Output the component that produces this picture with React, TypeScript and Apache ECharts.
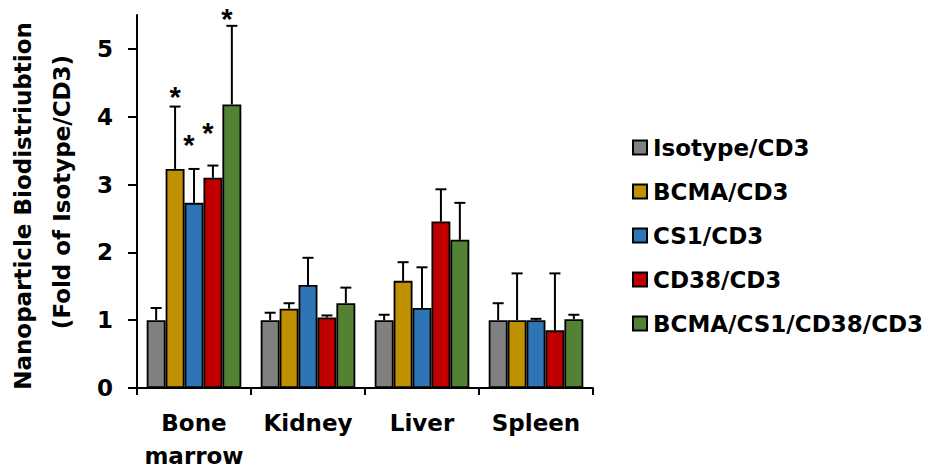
import React, { useEffect, useRef } from "react";
import * as echarts from "echarts";

const organs = ["Bone\nmarrow", "Kidney", "Liver", "Spleen"];
const groups = ["Isotype/CD3", "BCMA/CD3", "CS1/CD3", "CD38/CD3", "BCMA/CS1/CD38/CD3"];
const groupColors = ["#808080", "#BF9000", "#2E75B6", "#C00000", "#548235"];

// Mean fold change (vs. Isotype/CD3) per organ
const isotypeMean = [1.0, 1.0, 1.0, 1.0];
const bcmaMean = [3.23, 1.17, 1.58, 1.0];
const cs1Mean = [2.73, 1.52, 1.18, 1.0];
const cd38Mean = [3.1, 1.04, 2.455, 0.85];
const comboMean = [4.18, 1.25, 2.185, 1.015];

// Upper end of each error bar (mean + SD)
const isotypeUpper = [1.18, 1.11, 1.08, 1.25];
const bcmaUpper = [4.15, 1.25, 1.855, 1.69];
const cs1Upper = [3.23, 1.92, 1.78, 1.02];
const cd38Upper = [3.28, 1.07, 2.93, 1.69];
const comboUpper = [5.34, 1.48, 2.73, 1.08];

// Significance asterisks: organ index, group index, level on the value axis
const sigOrgan = [0, 0, 0, 0];
const sigGroup = [1, 2, 3, 4];
const sigLevel = [4.36, 3.66, 3.83, 5.51];

const yTickValues = [0, 1, 2, 3, 4, 5];

const means = [isotypeMean, bcmaMean, cs1Mean, cd38Mean, comboMean];
const uppers = [isotypeUpper, bcmaUpper, cs1Upper, cd38Upper, comboUpper];

const FONT = "DejaVu Sans";
const CATEGORY_GAP = 0.17;

function barCenterX(api: any, organ: number, group: number) {
  const c = api.coord([organ, 0]);
  const band = api.size([1, 0])[0];
  const inner = band * (1 - CATEGORY_GAP);
  const w = inner / groups.length;
  return { x: c[0] - inner / 2 + w * (group + 0.5), w };
}

export default function App() {
  const ref = useRef<HTMLDivElement>(null);

  useEffect(() => {
    if (!ref.current) return;
    const chart = echarts.init(ref.current, null, { renderer: "svg" });

    const barSeries = groups.map((name, g) => ({
      name,
      type: "bar",
      data: means[g],
      barGap: "0%",
      barCategoryGap: CATEGORY_GAP * 100 + "%",
      itemStyle: { color: groupColors[g], borderColor: "#000", borderWidth: 1.8 },
      z: 2,
    }));

    const errData: number[][] = [];
    groups.forEach((_, g) => {
      organs.forEach((__, o) => {
        errData.push([o, g, means[g][o], uppers[g][o]]);
      });
    });

    const errorSeries = {
      type: "custom",
      name: "error",
      z: 3,
      silent: true,
      clip: false,
      data: errData,
      encode: { x: 0, y: 3 },
      renderItem: (params: any, api: any) => {
        const o = api.value(0);
        const g = api.value(1);
        const { x } = barCenterX(api, o, g);
        const yMean = api.coord([o, api.value(2)])[1];
        const yUp = api.coord([o, api.value(3)])[1];
        const cap = 5.5;
        const style = { stroke: "#000", lineWidth: 2 };
        return {
          type: "group",
          children: [
            { type: "line", shape: { x1: x, y1: yMean, x2: x, y2: yUp }, style },
            { type: "line", shape: { x1: x - cap, y1: yUp, x2: x + cap, y2: yUp }, style },
          ],
        };
      },
    };

    const starData = sigOrgan.map((o, i) => [o, sigGroup[i], sigLevel[i]]);
    const starSeries = {
      type: "custom",
      name: "sig",
      z: 4,
      silent: true,
      clip: false,
      data: starData,
      encode: { x: 0, y: 2 },
      renderItem: (params: any, api: any) => {
        const o = api.value(0);
        const g = api.value(1);
        const { x } = barCenterX(api, o, g);
        const y = api.coord([o, api.value(2)])[1];
        const shift = g >= 2 ? -5 : 0;
        return {
          type: "text",
          x: x + shift,
          y: y + 5,
          style: {
            text: "*",
            fill: "#000",
            font: `bold 29px "Liberation Sans"`,
            align: "center",
            verticalAlign: "middle",
          },
        };
      },
    };

    chart.setOption({
      animation: false,
      backgroundColor: "#fff",
      textStyle: { fontFamily: FONT },
      grid: {
        left: 137,
        right: 345,
        top: 15,
        bottom: 79,
        containLabel: false,
        outerBoundsMode: "none",
      },
      legend: {
        orient: "vertical",
        left: 632,
        top: 136,
        padding: 0,
        itemWidth: 14,
        itemHeight: 14,
        itemGap: 21,
        icon: "rect",
        data: groups,
        textStyle: { fontFamily: FONT, fontWeight: "bold", fontSize: 23, color: "#000", padding: [0, 0, 0, 1] },
      },
      graphic: [
        {
          type: "text",
          x: 23,
          y: 206,
          rotation: Math.PI / 2,
          style: {
            text: "Nanoparticle Biodistriubtion",
            font: `bold 23px ${FONT}`,
            fill: "#000",
            align: "center",
            verticalAlign: "middle",
          },
        },
        {
          type: "text",
          x: 62,
          y: 192,
          rotation: Math.PI / 2,
          style: {
            text: "(Fold of Isotype/CD3)",
            font: `bold 23px ${FONT}`,
            fill: "#000",
            align: "center",
            verticalAlign: "middle",
          },
        },
      ],
      xAxis: {
        type: "category",
        data: organs,
        axisLine: { lineStyle: { color: "#000", width: 2 } },
        axisTick: { show: true, length: 7, lineStyle: { color: "#000", width: 2 } },
        axisLabel: {
          color: "#000",
          fontFamily: FONT,
          fontWeight: "bold",
          fontSize: 23,
          lineHeight: 33,
          margin: 18,
          interval: 0,
        },
      },
      yAxis: {
        type: "value",
        min: 0,
        max: 5.5,
        interval: 1,
        splitLine: { show: false },
        axisLine: { show: true, lineStyle: { color: "#000", width: 2 } },
        axisTick: {
          show: true,
          length: 9,
          customValues: yTickValues,
          lineStyle: { color: "#000", width: 2 },
        },
        axisLabel: {
          color: "#000",
          fontFamily: FONT,
          fontWeight: "bold",
          fontSize: 23,
          margin: 24,
          customValues: yTickValues,
        },
      },
      series: [...barSeries, errorSeries, starSeries],
    } as any);

    return () => chart.dispose();
  }, []);

  return (
    <div
      ref={ref}
      style={{ position: "fixed", left: 0, top: 0, width: 938, height: 467, background: "#fff" }}
    />
  );
}
